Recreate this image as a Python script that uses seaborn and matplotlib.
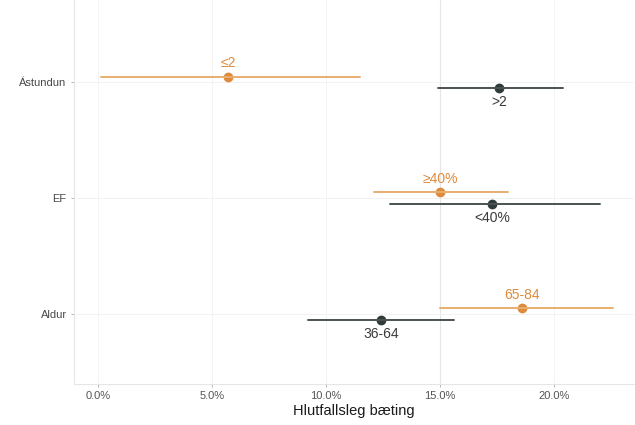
import pandas as pd
import seaborn as sns
import matplotlib.pyplot as plt
from matplotlib.ticker import FuncFormatter

# categories top to bottom
categories = ["Ástundun", "EF", "Aldur"]

# upper (orange) group per category
upper_labels = ["≤2", "≥40%", "65-84"]
upper_est = [5.7, 15.0, 18.6]
upper_lo = [0.1, 12.1, 15.0]
upper_hi = [11.5, 18.0, 22.6]

# lower (dark) group per category
lower_labels = [">2", "<40%", "36-64"]
lower_est = [17.6, 17.3, 12.4]
lower_lo = [14.9, 12.8, 9.2]
lower_hi = [20.4, 22.0, 15.6]

orange = "#DF8B3C"
dark = "#2F3A3A"

rows = []
for i, cat in enumerate(categories):
    for grp, lo, est, hi in [("upper", upper_lo[i], upper_est[i], upper_hi[i]),
                             ("lower", lower_lo[i], lower_est[i], lower_hi[i])]:
        for v in (lo, est, hi):
            rows.append({"flokkur": cat, "hopur": grp, "gildi": v})
df = pd.DataFrame(rows)

sns.set_style("white")
plt.rcParams["font.family"] = ["Liberation Sans", "DejaVu Sans"]

fig = plt.figure(figsize=(6.35, 4.25), dpi=100)
ax = fig.add_axes([0.117, 0.097, 0.881, 0.903])

# faint grid and reference line
for t in [0, 5, 10, 20]:
    ax.axvline(t, color="#F4F4F4", lw=0.7, zorder=0)
ax.axvline(15, color="#E6E6E6", lw=0.8, zorder=0)
for j in range(len(categories)):
    ax.axhline(j, color="#F2F2F2", lw=0.7, zorder=0)

sns.pointplot(
    data=df, x="gildi", y="flokkur", hue="hopur",
    order=categories, hue_order=["upper", "lower"],
    estimator="median", errorbar=("pi", 100),
    palette={"upper": orange, "lower": dark},
    dodge=0.1, linestyle="none", marker="o", markersize=5,
    err_kws={"linewidth": 1.4}, legend=False, ax=ax,
)

# soften the interval lines a bit
for ln in ax.lines:
    if len(ln.get_xdata()) == 2 and ln.get_marker() in ("None", "", None):
        if ln.get_color() == orange:
            ln.set_color("#E8AE6E")
        elif ln.get_color() == dark:
            ln.set_color("#4A5252")

for i in range(len(categories)):
    ax.annotate(upper_labels[i], (upper_est[i], i - 0.05), xytext=(0, 9.5),
                textcoords="offset points", ha="center", va="center",
                color=orange, fontsize=10)
    ax.annotate(lower_labels[i], (lower_est[i], i + 0.05), xytext=(0, -10),
                textcoords="offset points", ha="center", va="center",
                color="#3A3A3A", fontsize=10)

ax.set_xlim(-1.05, 23.5)
ax.set_ylim(2.6, -0.71)
ax.set_xticks([0, 5, 10, 15, 20])
ax.xaxis.set_major_formatter(FuncFormatter(lambda v, p: f"{v:.1f}%"))
ax.set_xlabel("Hlutfallsleg bæting", fontsize=10.5, color="#1A1A1A", labelpad=2)
ax.set_ylabel("")
ax.tick_params(axis="x", bottom=True, labelsize=8, colors="#555555", length=2.5, width=0.6, pad=3)
ax.tick_params(axis="y", left=True, labelsize=8, colors="#4A4A4A", length=2.5, width=0.6, pad=3)
ax.tick_params(axis="both", color="#AAAAAA")

for s in ["top", "right"]:
    ax.spines[s].set_visible(False)
for s in ["left", "bottom"]:
    ax.spines[s].set_color("#E6E6E6")
    ax.spines[s].set_linewidth(0.8)

fig.savefig("out.png", dpi=100)
